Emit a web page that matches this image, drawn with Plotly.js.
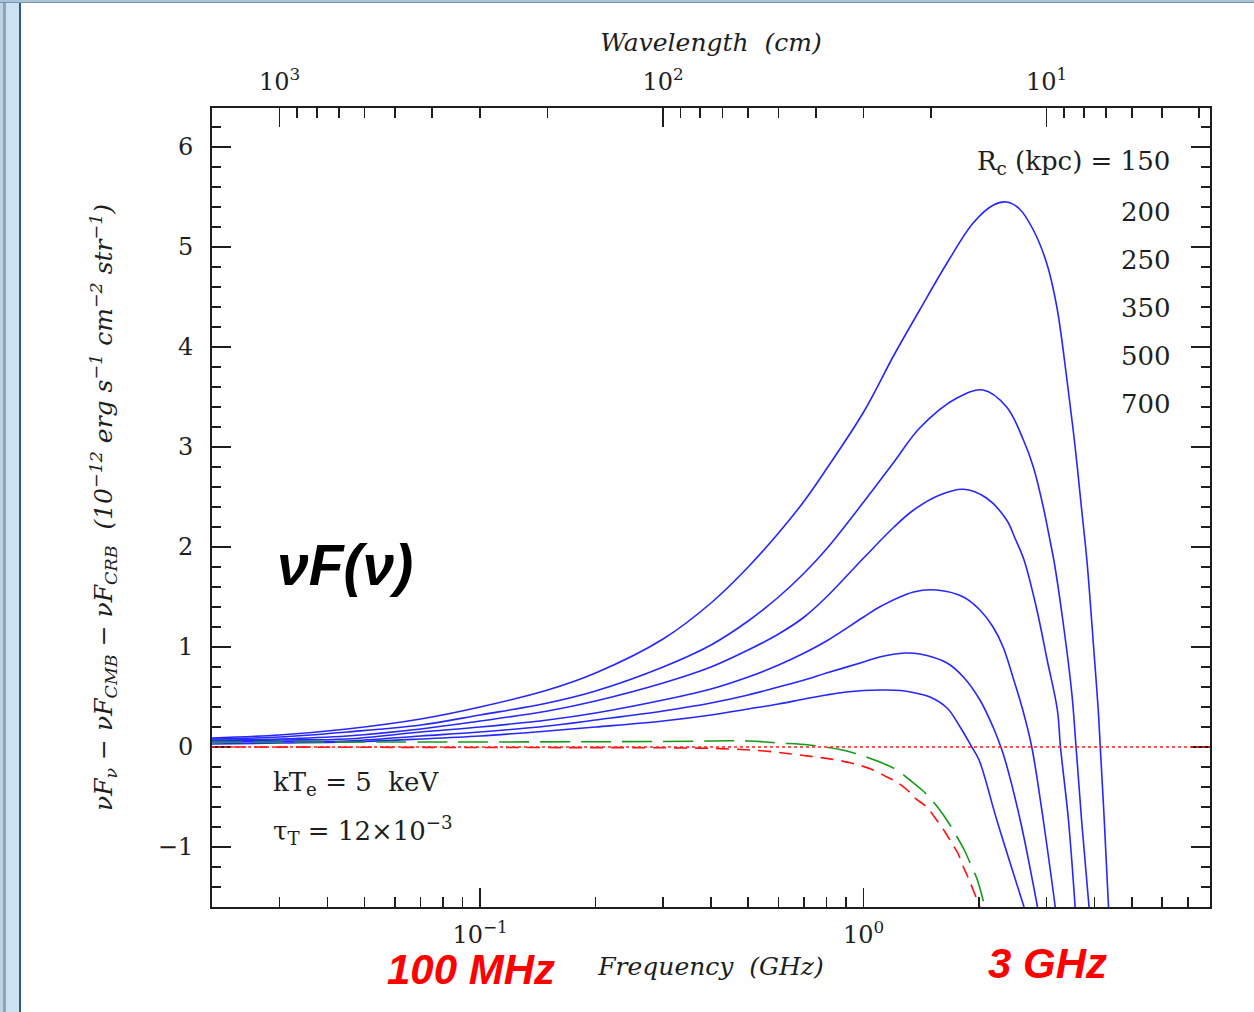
<!DOCTYPE html>
<html><head><meta charset="utf-8">
<script src="https://cdn.plot.ly/plotly-3.0.1.min.js"></script>
<style>
html,body{margin:0;padding:0;width:1254px;height:1012px;overflow:hidden;background:#fdfefd;}
#band{position:absolute;left:0;top:0;width:3px;height:1012px;background:#bcd3e6;}
#band2{position:absolute;left:3px;top:0;width:3px;height:1012px;background:#8fa3b3;}
#band3{position:absolute;left:6px;top:0;width:13px;height:1012px;background:#cce2f3;}
#band4{position:absolute;left:19px;top:0;width:2px;height:1012px;background:#2d5c84;}
#topband{position:absolute;left:0;top:0;width:1254px;height:2px;background:#a9c3d9;border-bottom:1px solid #7d94a6;}
#chart{position:absolute;left:0;top:0;width:1254px;height:1012px;}
</style></head>
<body><div id="band"></div><div id="band2"></div><div id="band3"></div><div id="band4"></div><div id="topband"></div><div id="chart"></div>
<script>
// axis limits (GHz) and speed of light (cm * GHz)
const fMin = 0.02, fMax = 8;
const cLight = 30;

const rcLabels = ['150', '200', '250', '350', '500', '700'];

// blue curves, top to bottom
const freqA = [0.02,0.03,0.045,0.07,0.1,0.15,0.2,0.3,0.4,0.5,0.6,0.7,0.8,1.0,1.2,1.4,1.65,1.93,2.18,2.36,2.55,2.77,3.00,3.19,3.39,3.56,3.71,3.82,3.93,3.97,4.09,4.14,4.24,4.35];
const valA  = [0.09,0.12,0.18,0.28,0.40,0.57,0.74,1.08,1.44,1.80,2.14,2.46,2.78,3.35,3.92,4.37,4.84,5.24,5.42,5.45,5.38,5.17,4.84,4.40,3.67,3.00,2.34,1.87,1.27,1.04,0.37,0,-0.73,-1.6];

const freqB = [0.02,0.03,0.045,0.07,0.1,0.15,0.2,0.3,0.4,0.5,0.6,0.7,0.8,1.0,1.2,1.4,1.75,2.05,2.36,2.61,2.77,2.94,3.06,3.139,3.311,3.489,3.58,3.70,3.87];
const valB  = [0.08,0.10,0.15,0.22,0.32,0.44,0.56,0.80,1.02,1.26,1.50,1.74,1.98,2.45,2.85,3.19,3.49,3.57,3.40,3.07,2.80,2.40,2.07,1.85,1.25,0.54,0,-0.73,-1.6];

const freqC = [0.02,0.03,0.045,0.07,0.1,0.15,0.2,0.3,0.4,0.5,0.6,0.7,0.8,1.0,1.2,1.35,1.58,1.82,2.09,2.36,2.48,2.62,2.83,3.01,3.20,3.26,3.42,3.56];
const valC  = [0.07,0.08,0.11,0.18,0.26,0.36,0.46,0.64,0.80,0.97,1.13,1.30,1.50,1.89,2.20,2.37,2.52,2.577,2.49,2.27,2.09,1.87,1.37,0.87,0.37,0,-0.73,-1.6];

const freqD = [0.02,0.03,0.045,0.07,0.1,0.15,0.2,0.3,0.4,0.5,0.6,0.7,0.8,1.0,1.1,1.35,1.55,1.82,2.01,2.175,2.31,2.45,2.60,2.744,2.94,3.16];
const valD  = [0.06,0.07,0.08,0.15,0.20,0.27,0.34,0.47,0.58,0.70,0.82,0.94,1.06,1.30,1.40,1.55,1.57,1.50,1.37,1.20,1.00,0.70,0.37,0,-0.73,-1.6];

const freqE = [0.02,0.03,0.045,0.07,0.1,0.15,0.2,0.3,0.4,0.5,0.6,0.7,0.8,1.0,1.1,1.28,1.4,1.65,1.82,2.01,2.175,2.279,2.338,2.56,2.84];
const valE  = [0.05,0.055,0.06,0.11,0.15,0.21,0.27,0.36,0.44,0.52,0.60,0.67,0.74,0.85,0.90,0.94,0.93,0.84,0.70,0.47,0.20,0,-0.13,-0.73,-1.6];

const freqF = [0.02,0.03,0.045,0.07,0.1,0.15,0.2,0.3,0.4,0.5,0.6,0.7,0.8,0.9,1.0,1.1,1.25,1.4,1.49,1.65,1.785,1.914,2.0,2.224,2.62];
const valF  = [0.03,0.04,0.05,0.08,0.11,0.16,0.20,0.26,0.32,0.38,0.43,0.48,0.52,0.55,0.565,0.57,0.565,0.53,0.50,0.39,0.20,0,-0.13,-0.73,-1.6];

// green dashed curve
const freqG = [0.02,0.1,0.3,0.5,0.6,0.72,0.88,0.96,1.05,1.15,1.22,1.32,1.42,1.49,1.58,1.68,1.74,1.83,1.92,1.98,2.07];
const valG  = [0.05,0.05,0.055,0.06,0.04,0.02,-0.03,-0.07,-0.12,-0.18,-0.23,-0.33,-0.43,-0.51,-0.63,-0.78,-0.88,-1.03,-1.21,-1.33,-1.6];

// red dashed curve
const freqR = [0.02,0.1,0.35,0.45,0.55,0.65,0.75,0.85,0.95,1.06,1.15,1.22,1.30,1.35,1.46,1.53,1.63,1.71,1.76,1.82,1.87,2.01];
const valR  = [0.0,-0.005,-0.01,-0.02,-0.04,-0.07,-0.10,-0.13,-0.17,-0.23,-0.30,-0.35,-0.43,-0.50,-0.60,-0.70,-0.85,-0.98,-1.06,-1.2,-1.3,-1.6];

// tick labels
const yTicks = [-1,0,1,2,3,4,5,6];
const yTickText = ['\u22121','0','1','2','3','4','5','6'];
const xTicks = [0.1, 1];
const xTickText = ['10<sup>\u22121</sup>','10<sup>0</sup>'];
const xMinor = [0.03,0.04,0.05,0.06,0.07,0.08,0.09,0.2,0.3,0.4,0.5,0.6,0.7,0.8,0.9,2,3,4,5,6,7];
const lamTicks = [1000, 100, 10];
const lamTickText = ['10<sup>3</sup>','10<sup>2</sup>','10<sup>1</sup>'];
const lamMinor = [900,800,700,600,500,400,300,200,90,80,70,60,50,40,30,20,9,8,7,6,5,4];

const blue = '#2626ff';
const serif = 'DejaVu Serif';
const ink = '#1e1e1e';

function blueCurve(x, y, name) {
  return {type:'scatter', mode:'lines', x:x, y:y, name:'R<sub>c</sub> = '+name+' kpc',
          line:{color:blue, width:1.6, shape:'spline', smoothing:1.0}, showlegend:false};
}

const traces = [
  blueCurve(freqA, valA, rcLabels[0]),
  blueCurve(freqB, valB, rcLabels[1]),
  blueCurve(freqC, valC, rcLabels[2]),
  blueCurve(freqD, valD, rcLabels[3]),
  blueCurve(freqE, valE, rcLabels[4]),
  blueCurve(freqF, valF, rcLabels[5]),
  {type:'scatter', mode:'lines', x:freqG, y:valG, name:'green', showlegend:false,
   line:{color:'#169a16', width:1.6, dash:'30px,11px', shape:'spline', smoothing:1.0}},
  {type:'scatter', mode:'lines', x:freqR, y:valR, name:'red', showlegend:false,
   line:{color:'#ff1010', width:1.6, dash:'13px,8px', shape:'spline', smoothing:1.0}},
  // carrier for the top wavelength axis (no visible mark)
  {type:'scatter', mode:'lines', x:[cLight/fMin, cLight/fMax], y:[null,null], xaxis:'x2', yaxis:'y',
   hoverinfo:'skip', showlegend:false}
];

const tickFont = {family:serif, size:24, color:ink};
const titleFont = {family:serif, size:25, color:ink, style:'italic'};

function ann(text, x, y, opts) {
  return Object.assign({text:text, x:x, y:y, xref:'paper', yref:'paper', showarrow:false,
    font:{family:serif, size:26, color:ink}}, opts || {});
}
const px = v => (v - 212) / 998;
const py = v => (907 - v) / 799;

const annotations = [
  ann('R<sub>c</sub> (kpc) = ' + rcLabels[0], px(1172), py(162), {xanchor:'right', yanchor:'middle'}),
  ann(rcLabels[1], px(1173), py(212), {xanchor:'right', yanchor:'middle'}),
  ann(rcLabels[2], px(1173), py(260), {xanchor:'right', yanchor:'middle'}),
  ann(rcLabels[3], px(1173), py(308), {xanchor:'right', yanchor:'middle'}),
  ann(rcLabels[4], px(1173), py(356), {xanchor:'right', yanchor:'middle'}),
  ann(rcLabels[5], px(1173), py(404), {xanchor:'right', yanchor:'middle'}),
  ann('kT<sub>e</sub> = 5  keV', px(271), py(783), {xanchor:'left', yanchor:'middle'}),
  ann('\u03c4<sub>T</sub> = 12\u00d710<sup>\u22123</sup>', px(271), py(830), {xanchor:'left', yanchor:'middle'}),
  ann('\u03bdF(\u03bd)', px(275), py(565), {xanchor:'left', yanchor:'middle',
      font:{family:'Liberation Sans', size:57, color:'#000', weight:'bold', style:'italic'}}),
  ann('100 MHz', px(471), py(969), {xanchor:'center', yanchor:'middle',
      font:{family:'Liberation Sans', size:42, color:'#ff0000', weight:'bold', style:'italic'}}),
  ann('3 GHz', px(1047), py(963), {xanchor:'center', yanchor:'middle',
      font:{family:'Liberation Sans', size:42, color:'#ff0000', weight:'bold', style:'italic'}})
];

const layout = {
  width:1254, height:1012,
  margin:{l:212, r:44, t:108, b:105, pad:0},
  paper_bgcolor:'rgba(0,0,0,0)', plot_bgcolor:'#fdfefd',
  showlegend:false,
  xaxis:{type:'log', range:[Math.log10(fMin), Math.log10(fMax)],
    tickmode:'array', tickvals:xTicks, ticktext:xTickText,
    ticks:'inside', ticklen:19, tickwidth:1.6, tickcolor:ink,
    minor:{tickmode:'array', tickvals:xMinor, ticks:'inside', ticklen:10, tickwidth:1.6, tickcolor:ink, showgrid:false},
    showline:true, linewidth:2, linecolor:ink, mirror:false,
    showgrid:false, zeroline:false, tickfont:tickFont, ticklabelstandoff:5,
    title:{text:'Frequency  (GHz)', font:titleFont, standoff:10}},
  xaxis2:{type:'log', overlaying:'x', side:'top', anchor:'y',
    range:[Math.log10(cLight/fMin), Math.log10(cLight/fMax)],
    tickmode:'array', tickvals:lamTicks, ticktext:lamTickText,
    ticks:'inside', ticklen:19, tickwidth:1.6, tickcolor:ink,
    minor:{tickmode:'array', tickvals:lamMinor, ticks:'inside', ticklen:10, tickwidth:1.6, tickcolor:ink, showgrid:false},
    showline:true, linewidth:2, linecolor:ink,
    showgrid:false, zeroline:false, tickfont:tickFont, ticklabelstandoff:6,
    title:{text:'Wavelength  (cm)', font:titleFont, standoff:6}},
  yaxis:{range:[-1.6, 6.39], tickmode:'array', tickvals:yTicks, ticktext:yTickText,
    ticks:'inside', ticklen:19, tickwidth:1.6, tickcolor:ink,
    minor:{dtick:0.2, ticks:'inside', ticklen:9, tickwidth:1.6, tickcolor:ink, showgrid:false},
    showline:true, linewidth:2, linecolor:ink, mirror:'ticks',
    showgrid:false, zeroline:false, tickfont:tickFont, ticklabelstandoff:12,
    title:{text:'\u03bdF<sub>\u03bd</sub> \u2212 \u03bdF<sub>CMB</sub> \u2212 \u03bdF<sub>CRB</sub>  (10<sup>\u221212</sup> erg s<sup>\u22121</sup> cm<sup>\u22122</sup> str<sup>\u22121</sup>)',
      font:{family:serif, size:25, color:ink, style:'italic'}, standoff:38}},
  shapes:[{type:'line', xref:'paper', x0:0, x1:1, yref:'y', y0:0, y1:0,
    line:{color:'#ff2020', width:1.5, dash:'dot'}}],
  annotations:annotations
};

Plotly.newPlot('chart', traces, layout, {displayModeBar:false, staticPlot:true});
</script></body></html>
